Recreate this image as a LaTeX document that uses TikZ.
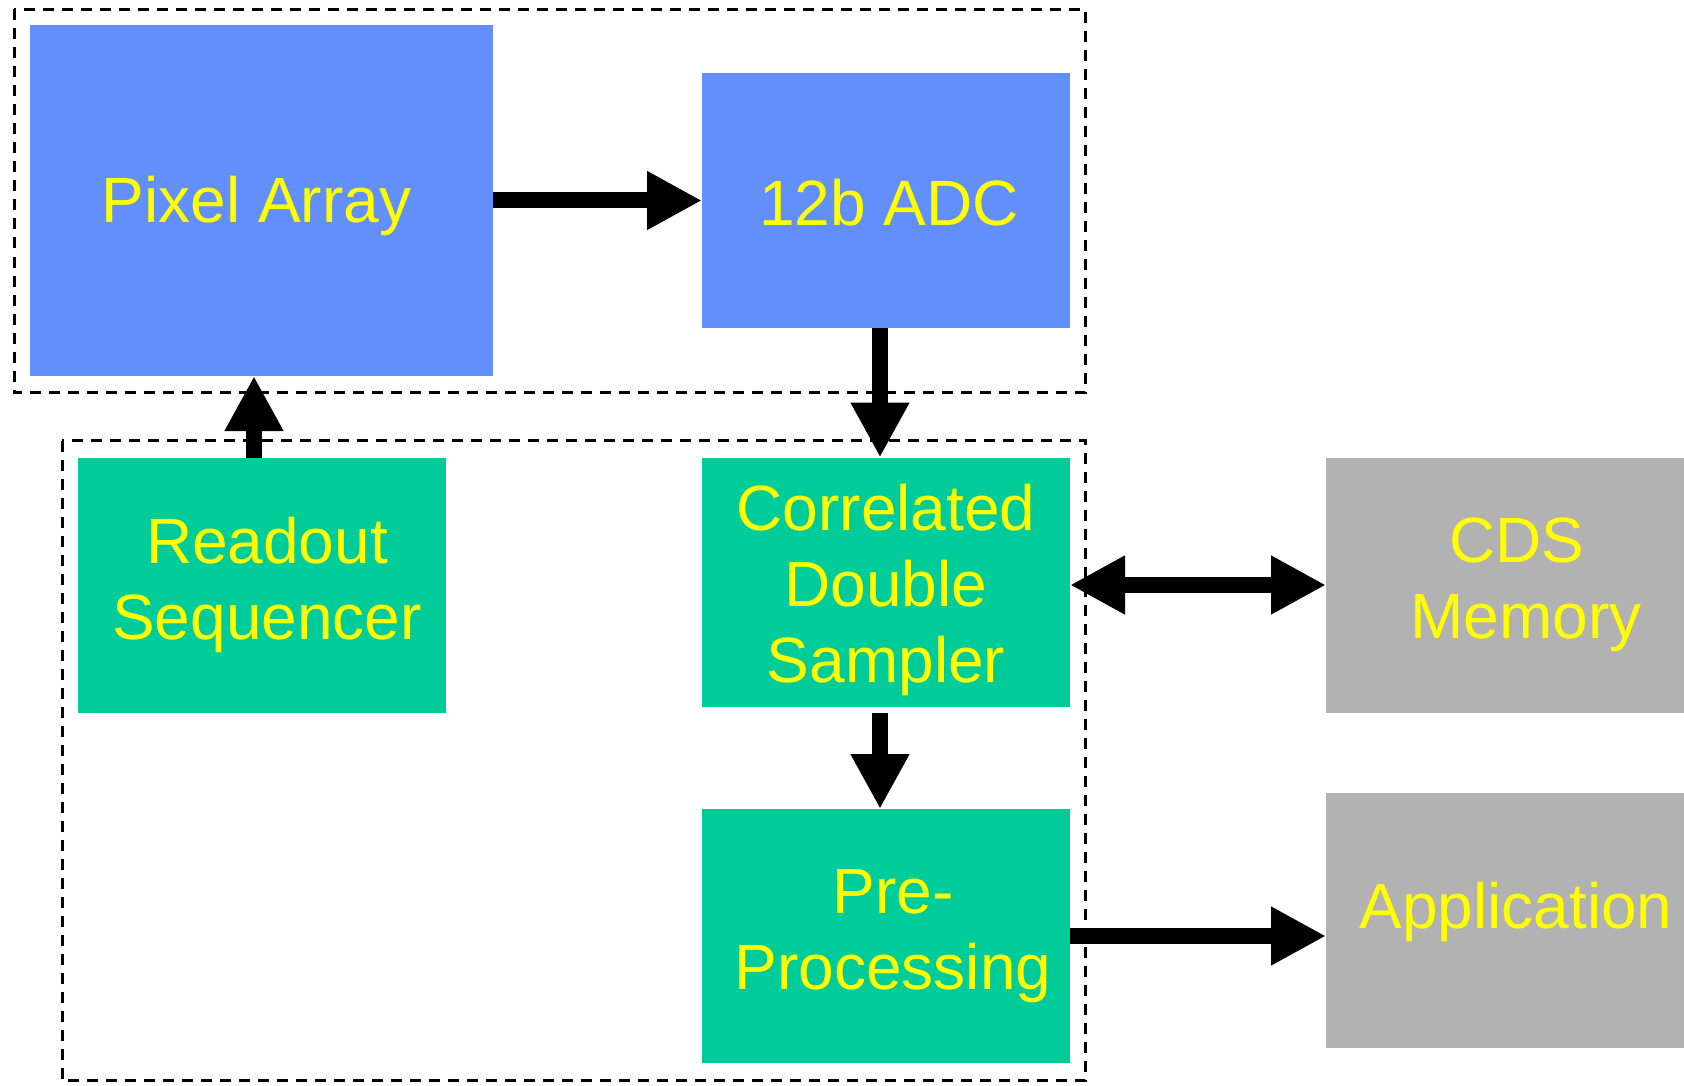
\documentclass[tikz,border=0pt]{standalone}
\usepackage{fontspec}
\setmainfont{Liberation Sans}
\usetikzlibrary{arrows.meta}

\definecolor{blockblue}{RGB}{99,143,250}
\definecolor{blockgreen}{RGB}{0,204,153}
\definecolor{blockgray}{RGB}{178,178,178}
\definecolor{labelyellow}{RGB}{255,255,0}

\begin{document}
\begin{tikzpicture}[x=1pt,y=-1pt,
  block/.style={rectangle, inner sep=0pt, outer sep=0pt},
  blueblock/.style={block, fill=blockblue},
  greenblock/.style={block, fill=blockgreen},
  grayblock/.style={block, fill=blockgray},
  caption/.style={inner sep=0pt, text=labelyellow, align=center,
    font=\fontsize{64}{76}\selectfont},
  flow/.style={line width=16pt, -{Triangle[length=55pt,width=55pt]}},
  bothflow/.style={line width=16pt, {Triangle[length=55pt,width=55pt]}-{Triangle[length=55pt,width=55pt]}},
  group/.style={draw=black, line width=3pt, dash pattern=on 11pt off 8pt}
]
\clip (0,0) rectangle (1684,1086);
\fill[white] (0,0) rectangle (1684,1086);

% dashed grouping frames
\draw[group] (14,9.5) rectangle (1085.5,392.5);
\draw[group] (62,440.5) rectangle (1085.5,1080.5);

% blocks
\node[blueblock, minimum width=463pt, minimum height=351pt] (pa) at (261.5,200.5) {};
\node[blueblock, minimum width=368pt, minimum height=255pt] (adc) at (886,200.5) {};
\node[greenblock, minimum width=368pt, minimum height=255pt] (rs) at (262,585) {};
\node[greenblock, minimum width=368pt, minimum height=249pt] (cds) at (886,582) {};
\node[greenblock, minimum width=368pt, minimum height=254pt] (pre) at (886,936) {};
\node[grayblock, minimum width=380pt, minimum height=255pt] (mem) at (1516,585) {};
\node[grayblock, minimum width=380pt, minimum height=255pt] (app) at (1516,920.5) {};

% block captions
\node[caption] (pa-text) at ([xshift=-5pt,yshift=-5pt]pa.center) {Pixel Array};
\node[caption] (adc-text) at ([xshift=3pt,yshift=-2pt]adc.center) {12b ADC};
\node[caption] (rs-text) at ([xshift=5pt]rs.center) {Readout\\Sequencer};
\node[caption] (cds-text) at ([yshift=-8pt]cds.center) {Correlated\\Double\\Sampler};
\node[caption] (pre-text) at ([xshift=7pt]pre.center) {Pre-\\Processing};
\node[caption] (mem-text) at ([xshift=1pt]mem.center) {CDS\\\hspace*{18pt}Memory};
\node[caption] (app-text) at ([yshift=9pt]app.center) {Application};

% connector columns
\coordinate (upcol) at (254,0);
\coordinate (downcol) at (880,0);

% connectors
\draw[flow] (pa) -- (adc);
\draw[flow] (adc.south -| downcol) -- (cds.north -| downcol);
\draw[flow] (rs.north -| upcol) -- (pa.south -| upcol);
\draw[bothflow] (cds.east |- mem.west) -- (mem.west);
\draw[flow] ([yshift=-6pt]cds.south -| downcol) -- (pre.north -| downcol);
\draw[flow] (pre.east) -- (pre.east -| app.west);
\end{tikzpicture}
\end{document}
